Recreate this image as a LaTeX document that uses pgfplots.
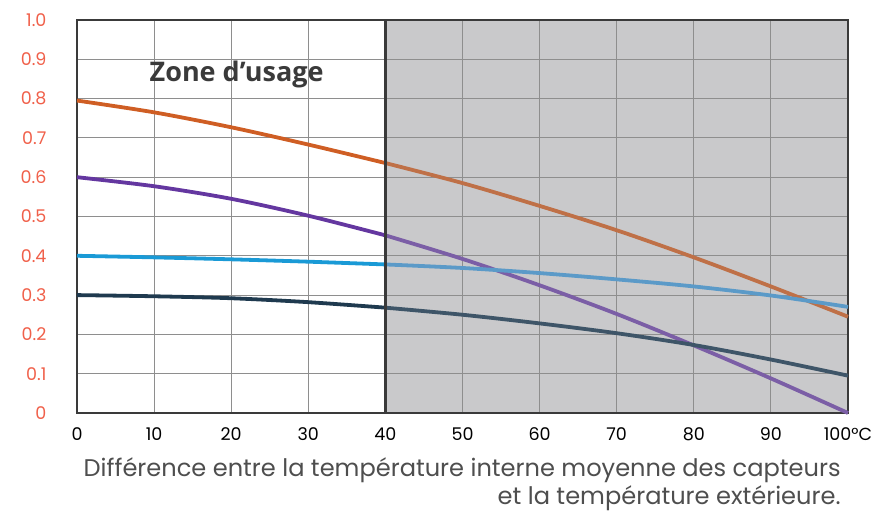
\documentclass[border=0pt]{standalone}
\usepackage{pgfplots}
\pgfplotsset{compat=1.18}
\usepackage{pgfplotstable}
\usepackage{fontspec}
\setmainfont{Poppins}
\newfontfamily\zonefont{Open Sans}

\definecolor{orvivid}{HTML}{CF5E24}
\definecolor{ormuted}{HTML}{BF7047}
\definecolor{puvivid}{HTML}{6437A0}
\definecolor{pumuted}{HTML}{7B5EA6}
\definecolor{blvivid}{HTML}{1A9AD6}
\definecolor{blmuted}{HTML}{5B9AC8}
\definecolor{nvvivid}{HTML}{1F3A4F}
\definecolor{nvmuted}{HTML}{3E5568}
\definecolor{zonegray}{HTML}{C9C9CB}
\definecolor{gridgray}{HTML}{8E8E8E}
\definecolor{frame}{HTML}{3A3A3A}
\definecolor{ytick}{HTML}{F0604A}

% temperature difference vs efficiency, one column per curve
\pgfplotstableread{
x    o      p      b      n
0    0.795  0.600  0.400  0.300
10   0.765  0.577  0.396  0.297
20   0.727  0.545  0.391  0.292
30   0.683  0.502  0.385  0.282
40   0.636  0.452  0.378  0.268
50   0.585  0.392  0.369  0.250
60   0.527  0.325  0.356  0.228
70   0.465  0.252  0.340  0.203
80   0.396  0.172  0.322  0.173
90   0.322  0.088  0.299  0.136
100  0.245  0.000  0.270  0.095
}\eff

\begin{document}
\begin{tikzpicture}
\begin{axis}[
    set layers,
    scale only axis,
    width=771pt, height=393pt,
    xmin=0, xmax=100, ymin=0, ymax=1,
    xtick={0,10,...,100},
    xticklabels={0,10,20,30,40,50,60,70,80,90,100°C},
    ytick={0,0.1,...,1.0},
    yticklabels={0,0.1,0.2,0.3,0.4,0.5,0.6,0.7,0.8,0.9,1.0},
    grid=major,
    major grid style={gridgray, line width=1.1pt},
    axis line style={frame, line width=2.8pt},
    major tick length=0pt,
    /pgf/number format/assume math mode=true,
    x tick label style={font=\fontsize{17.5}{20}\selectfont, text=black, yshift=-11pt},
    y tick label style={font=\fontsize{17.5}{20}\selectfont, text=ytick, xshift=-27pt},
    clip=false,
]
\begin{pgfonlayer}{axis background}
\fill[zonegray] (axis cs:40,0) rectangle (axis cs:100,1);
\end{pgfonlayer}

\addplot[orvivid, line width=3.8pt, smooth, restrict x to domain=0:40] table[x=x, y=o] {\eff};
\addplot[ormuted, line width=3.8pt, smooth, restrict x to domain=40:100] table[x=x, y=o] {\eff};
\addplot[puvivid, line width=3.8pt, smooth, restrict x to domain=0:40] table[x=x, y=p] {\eff};
\addplot[pumuted, line width=3.8pt, smooth, restrict x to domain=40:100] table[x=x, y=p] {\eff};
\addplot[blvivid, line width=3.8pt, smooth, restrict x to domain=0:40] table[x=x, y=b] {\eff};
\addplot[blmuted, line width=3.8pt, smooth, restrict x to domain=40:100] table[x=x, y=b] {\eff};
\addplot[nvvivid, line width=3.8pt, smooth, restrict x to domain=0:40] table[x=x, y=n] {\eff};
\addplot[nvmuted, line width=3.8pt, smooth, restrict x to domain=40:100] table[x=x, y=n] {\eff};

\draw[frame, line width=2.6pt] (axis cs:40,0) -- (axis cs:40,1);

\node[font=\zonefont\bfseries\fontsize{27}{30}\selectfont, text=frame]
    at (axis cs:20.7,0.862) {Zone d’usage};
\node[anchor=north east, align=right, text=frame!90,
      font=\fontsize{24.1}{28}\selectfont]
    at (axis cs:99.5,-0.105)
    {Différence entre la température interne moyenne des capteurs\\
     et la température extérieure.};
\end{axis}
\pgfresetboundingbox
\path (-77pt,-105pt) rectangle (800pt,413pt);
\end{tikzpicture}
\end{document}
